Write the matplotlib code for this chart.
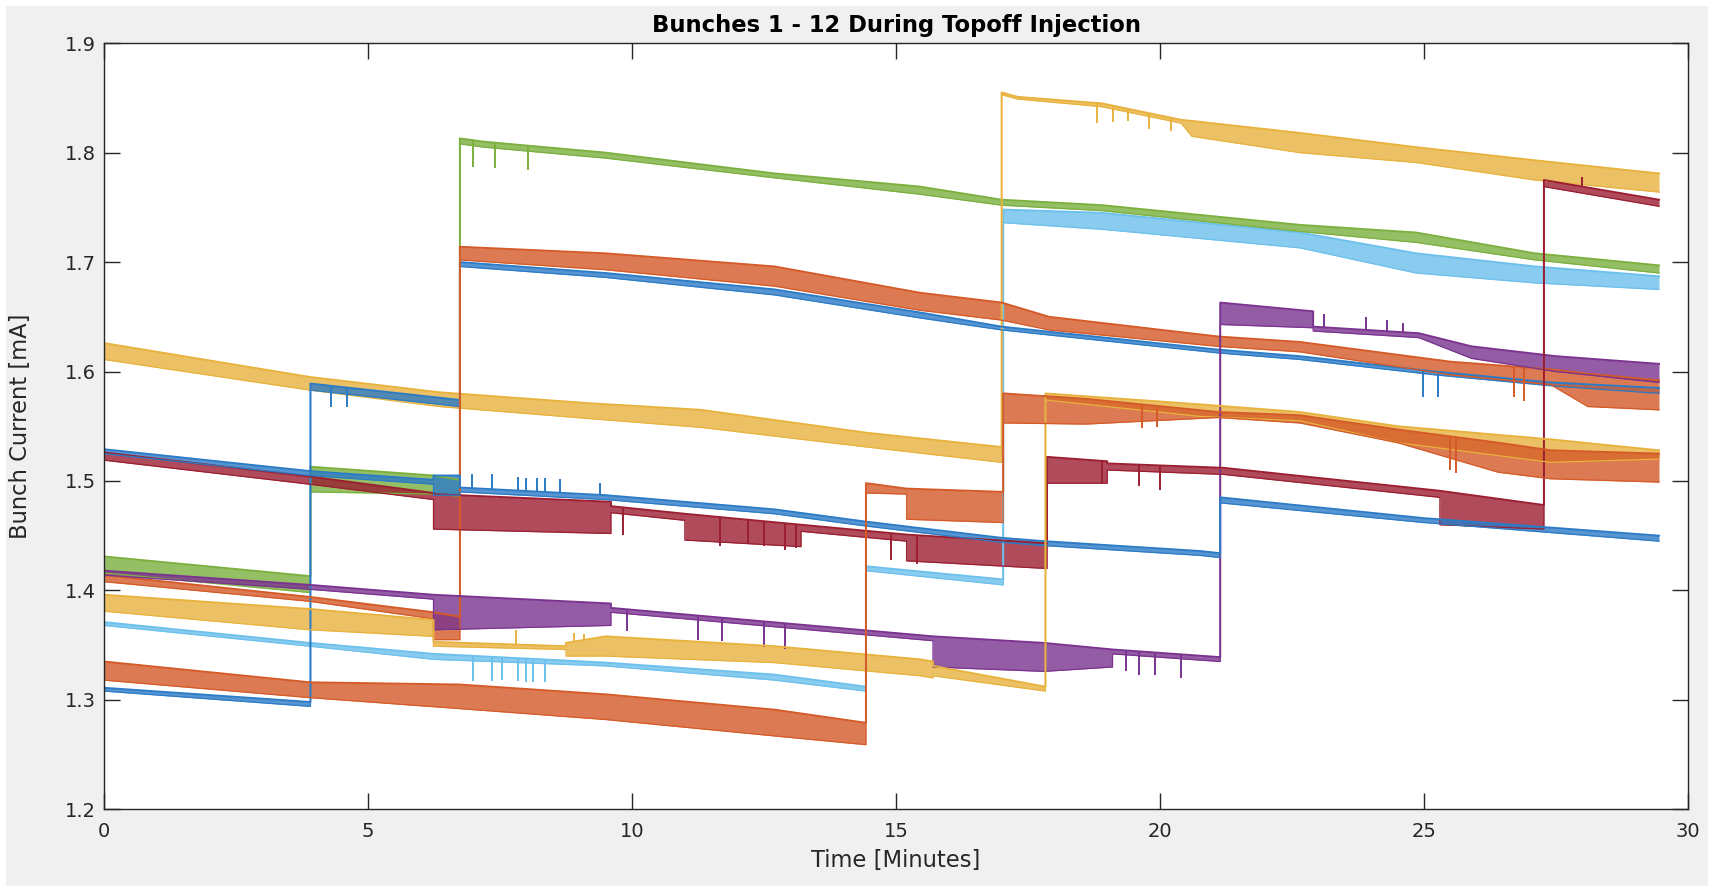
import matplotlib
matplotlib.use('Agg')
import matplotlib.pyplot as plt
import numpy as np
from matplotlib.patches import Rectangle

# each bunch: time [min], upper and lower edge of the noisy trace [mA]
# (repeated times are the topoff jumps), plus a few isolated spikes

# yellow, top
a_t = [0, 3.9, 6.36, 9.2, 11.3, 14.45, 17.0, 17.0, 17.3, 18.9, 20.4, 20.6, 22.65, 24.85, 27.1, 29.45]
a_hi = [1.626, 1.595, 1.581, 1.571, 1.565, 1.544, 1.531, 1.855, 1.851, 1.845, 1.830, 1.829, 1.818, 1.805, 1.793, 1.781]
a_lo = [1.611, 1.583, 1.568, 1.557, 1.549, 1.531, 1.517, 1.853, 1.849, 1.842, 1.827, 1.815, 1.800, 1.791, 1.775, 1.764]
a_spk_t = [18.8, 19.1, 19.4, 19.8, 20.2]
a_spk_v = [1.827, 1.828, 1.829, 1.822, 1.820]

# blue, starts at 1.53
b_t = [0, 3.9, 6.24, 6.24, 6.74, 6.74, 9.5, 12.7, 14.4, 17.0, 17.8, 20.75, 21.14, 21.14, 25.0, 29.45]
b_hi = [1.529, 1.509, 1.501, 1.505, 1.505, 1.494, 1.487, 1.474, 1.463, 1.448, 1.445, 1.436, 1.434, 1.485, 1.466, 1.450]
b_lo = [1.525, 1.505, 1.497, 1.487, 1.487, 1.490, 1.483, 1.470, 1.459, 1.444, 1.441, 1.432, 1.430, 1.480, 1.462, 1.445]
b_spk_t = [6.97, 7.35, 7.84, 8.0, 8.2, 8.35, 8.64, 9.4]
b_spk_v = [1.506, 1.506, 1.504, 1.503, 1.503, 1.503, 1.502, 1.498]

# dark red
c_t = [0, 3.9, 6.24, 6.24, 9.6, 9.6, 11.0, 11.0, 13.2, 13.2, 15.2, 15.2, 17.86, 17.86, 19.0, 19.0, 21.2, 25.3, 25.3, 27.27, 27.27, 29.45]
c_hi = [1.526, 1.504, 1.489, 1.488, 1.481, 1.477, 1.470, 1.470, 1.460, 1.460, 1.451, 1.451, 1.443, 1.522, 1.518, 1.516, 1.512, 1.491, 1.491, 1.478, 1.775, 1.757]
c_lo = [1.519, 1.497, 1.483, 1.456, 1.452, 1.471, 1.464, 1.446, 1.440, 1.454, 1.445, 1.427, 1.420, 1.498, 1.498, 1.510, 1.506, 1.485, 1.460, 1.456, 1.769, 1.751]
c_spk_t = [9.83, 11.67, 12.2, 12.5, 12.9, 13.1, 14.9, 15.4, 18.9, 19.6, 20.0, 28.0]
c_spk_v = [1.451, 1.441, 1.443, 1.441, 1.437, 1.439, 1.428, 1.424, 1.497, 1.495, 1.492, 1.778]

# green
d_t = [0, 3.91, 3.91, 6.24, 6.74, 6.74, 7.2, 9.5, 12.7, 15.45, 17.0, 18.9, 22.65, 24.85, 27.1, 29.45]
d_hi = [1.431, 1.413, 1.513, 1.505, 1.501, 1.813, 1.810, 1.800, 1.781, 1.769, 1.757, 1.752, 1.734, 1.727, 1.708, 1.697]
d_lo = [1.416, 1.398, 1.490, 1.488, 1.486, 1.808, 1.805, 1.795, 1.777, 1.762, 1.752, 1.747, 1.728, 1.718, 1.702, 1.690]
d_spk_t = [6.99, 7.4, 8.03]
d_spk_v = [1.787, 1.786, 1.784]

# purple
e_t = [0, 3.9, 6.24, 6.24, 9.6, 9.6, 15.7, 15.7, 17.8, 19.1, 19.1, 21.14, 21.14, 22.9, 22.9, 24.9, 25.9, 27.5, 29.45]
e_hi = [1.418, 1.405, 1.396, 1.396, 1.388, 1.384, 1.358, 1.358, 1.352, 1.346, 1.346, 1.339, 1.663, 1.655, 1.641, 1.635, 1.623, 1.614, 1.607]
e_lo = [1.414, 1.401, 1.392, 1.364, 1.368, 1.380, 1.354, 1.330, 1.326, 1.330, 1.342, 1.335, 1.643, 1.640, 1.637, 1.631, 1.612, 1.600, 1.590]
e_spk_t = [9.9, 11.25, 11.7, 12.5, 12.9, 19.35, 19.6, 19.9, 20.4, 23.1, 23.9, 24.3, 24.6]
e_spk_v = [1.363, 1.355, 1.354, 1.348, 1.346, 1.326, 1.323, 1.323, 1.320, 1.653, 1.650, 1.647, 1.644]

# orange, upper
f_t = [0, 3.9, 6.24, 6.24, 6.74, 6.74, 9.5, 12.7, 15.45, 17.0, 17.9, 21.1, 22.65, 25.5, 27.4, 28.1, 29.45]
f_hi = [1.414, 1.394, 1.380, 1.380, 1.376, 1.714, 1.708, 1.696, 1.672, 1.663, 1.650, 1.632, 1.627, 1.609, 1.602, 1.598, 1.592]
f_lo = [1.408, 1.390, 1.374, 1.355, 1.355, 1.702, 1.693, 1.678, 1.656, 1.647, 1.638, 1.623, 1.618, 1.597, 1.588, 1.568, 1.565]
f_spk_t = [26.7, 26.9]
f_spk_v = [1.577, 1.573]

# yellow, lower
g_t = [0, 3.9, 6.24, 6.24, 8.75, 8.75, 9.5, 12.7, 15.45, 15.7, 15.7, 17.83, 17.83, 20.75, 22.65, 24.5, 27.4, 29.45]
g_hi = [1.396, 1.383, 1.373, 1.353, 1.349, 1.352, 1.358, 1.349, 1.337, 1.335, 1.331, 1.312, 1.580, 1.570, 1.563, 1.550, 1.538, 1.528]
g_lo = [1.381, 1.364, 1.358, 1.349, 1.346, 1.340, 1.340, 1.334, 1.322, 1.320, 1.322, 1.308, 1.574, 1.559, 1.555, 1.535, 1.517, 1.520]
g_spk_t = [7.8, 8.9, 9.1]
g_spk_v = [1.364, 1.361, 1.360]

# cyan
h_t = [0, 3.9, 6.24, 9.5, 12.7, 14.43, 14.43, 17.03, 17.03, 18.9, 22.65, 24.85, 27.1, 29.45]
h_hi = [1.371, 1.352, 1.342, 1.334, 1.323, 1.312, 1.422, 1.410, 1.748, 1.745, 1.727, 1.708, 1.696, 1.687]
h_lo = [1.368, 1.349, 1.337, 1.331, 1.318, 1.308, 1.418, 1.405, 1.736, 1.730, 1.713, 1.690, 1.681, 1.675]
h_spk_t = [6.99, 7.35, 7.54, 7.84, 8.0, 8.12, 8.35]
h_spk_v = [1.317, 1.317, 1.318, 1.317, 1.316, 1.316, 1.316]

# orange, lower
i_t = [0, 3.9, 6.73, 9.5, 12.7, 14.43, 14.43, 15.2, 15.2, 17.03, 17.03, 18.6, 21.1, 22.65, 24.5, 26.4, 27.4, 29.45]
i_hi = [1.335, 1.316, 1.314, 1.305, 1.291, 1.279, 1.498, 1.493, 1.493, 1.490, 1.580, 1.575, 1.563, 1.560, 1.547, 1.535, 1.528, 1.525]
i_lo = [1.318, 1.302, 1.292, 1.282, 1.267, 1.259, 1.489, 1.488, 1.465, 1.462, 1.553, 1.552, 1.558, 1.553, 1.535, 1.508, 1.502, 1.499]
i_spk_t = [19.65, 19.95, 25.5, 25.6]
i_spk_v = [1.548, 1.549, 1.510, 1.507]

# blue, starts at 1.31
j_t = [0, 3.91, 3.91, 6.74, 6.74, 9.5, 12.7, 15.45, 17.0, 21.1, 22.65, 25.2, 27.4, 29.45]
j_hi = [1.311, 1.298, 1.589, 1.574, 1.700, 1.690, 1.675, 1.654, 1.641, 1.620, 1.614, 1.600, 1.590, 1.585]
j_lo = [1.308, 1.294, 1.583, 1.568, 1.696, 1.686, 1.670, 1.649, 1.638, 1.617, 1.611, 1.597, 1.587, 1.580]
j_spk_t = [4.3, 4.6, 24.98, 25.27]
j_spk_v = [1.568, 1.568, 1.577, 1.577]

BLUE = '#2c7bc6'
ORANGE = '#d45a28'
YELLOW = '#e8b23e'
PURPLE = '#7a338f'
GREEN = '#7bb03e'
CYAN = '#6cc0ec'
RED = '#9b1e31'

# drawing order
series = [
    (h_t, h_hi, h_lo, h_spk_t, h_spk_v, CYAN),
    (d_t, d_hi, d_lo, d_spk_t, d_spk_v, GREEN),
    (a_t, a_hi, a_lo, a_spk_t, a_spk_v, YELLOW),
    (j_t, j_hi, j_lo, j_spk_t, j_spk_v, BLUE),
    (f_t, f_hi, f_lo, f_spk_t, f_spk_v, ORANGE),
    (e_t, e_hi, e_lo, e_spk_t, e_spk_v, PURPLE),
    (c_t, c_hi, c_lo, c_spk_t, c_spk_v, RED),
    (b_t, b_hi, b_lo, b_spk_t, b_spk_v, BLUE),
    (g_t, g_hi, g_lo, g_spk_t, g_spk_v, YELLOW),
    (i_t, i_hi, i_lo, i_spk_t, i_spk_v, ORANGE),
]

fig = plt.figure(figsize=(17.19, 8.86), dpi=100)
fig.patch.set_facecolor('white')
fig.patches.append(Rectangle((6 / 1719, 0), 1702 / 1719, 880 / 886,
                             transform=fig.transFigure, facecolor='#f0f0f0',
                             edgecolor='none', zorder=-10))

ax = fig.add_axes([0.0605, 0.0866, 0.9215, 0.8646])
ax.set_facecolor('white')

for t, hi, lo, st, sv, col in series:
    ax.fill_between(t, lo, hi, color=col, lw=0, alpha=0.8)
    ax.plot(t, hi, color=col, lw=1.4)
    ax.plot(t, lo, color=col, lw=0.9)
    base = np.interp(st, t, hi)
    ax.vlines(st, base, sv, color=col, lw=1.4)

ax.set_xlim(0, 30)
ax.set_ylim(1.2, 1.9)
ax.set_xticks(np.arange(0, 31, 5))
ax.set_yticks(np.arange(1.2, 1.91, 0.1))
ax.set_yticklabels(['%.1f' % v for v in np.arange(1.2, 1.91, 0.1)])

ax.tick_params(direction='in', length=11.5, width=1.0, top=True, right=True,
               labelsize=14, colors='#262626', labelcolor='#262626')
ax.tick_params(axis='x', pad=9)
ax.tick_params(axis='y', pad=6)
for sp in ax.spines.values():
    sp.set_color('#262626')
    sp.set_linewidth(1.0)

ax.set_xlabel('Time [Minutes]', fontsize=16.3, color='#262626')
ax.set_ylabel('Bunch Current [mA]', fontsize=16.3, color='#262626')
ax.xaxis.set_label_coords(0.5, -0.052)
ax.yaxis.set_label_coords(-0.0455, 0.5)
ax.set_title('Bunches 1 - 12 During Topoff Injection', fontsize=16.3,
             fontweight='bold', color='black', pad=8)

fig.savefig('out.png', dpi=100, facecolor=fig.get_facecolor())
